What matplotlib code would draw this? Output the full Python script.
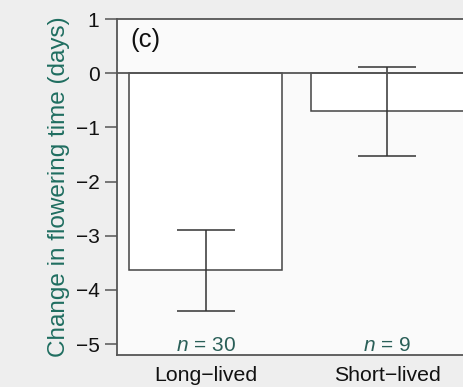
import matplotlib
matplotlib.use("Agg")
import matplotlib.pyplot as plt
import numpy as np

categories = ["Long\u2212lived", "Short\u2212lived"]
means = [-3.63, -0.70]
err_upper = [-2.89, 0.11]
err_lower = [-4.38, -1.53]
n_labels = ["30", "9"]
yticks = [1, 0, -1, -2, -3, -4, -5]

plt.rcParams['font.family'] = ['Liberation Sans', 'DejaVu Sans']
plt.rcParams['axes.unicode_minus'] = True
plt.rcParams['mathtext.fontset'] = 'custom'
plt.rcParams['mathtext.it'] = 'Liberation Sans:italic'
plt.rcParams['mathtext.rm'] = 'Liberation Sans'

fig = plt.figure(figsize=(4.64, 3.87), dpi=100, facecolor='#eeeeee')
ax = fig.add_axes([0.252, 0.0827, 0.817, 0.868])
ax.set_facecolor('#fafafa')

x = np.arange(len(categories))
edge = '#444444'
ax.bar(x, means, width=0.843, color='white', edgecolor=edge, linewidth=1.1, zorder=2)
m = np.array(means)
yerr = np.vstack([m - np.array(err_lower), np.array(err_upper) - m])
ax.errorbar(x, means, yerr=yerr, fmt='none', ecolor='#333333', elinewidth=1.1,
            capsize=21, capthick=1.1, zorder=3)
ax.axhline(0, color='#555555', linewidth=1.3, zorder=4)

ax.set_xlim(-0.488, 1.6)
ax.set_ylim(-5.2, 1)
ax.set_yticks(yticks)
ax.set_yticklabels([("\u2212%d" % -t) if t < 0 else str(t) for t in yticks])
ax.tick_params(axis='y', direction='out', length=8.6, width=1.1, color='#555555',
               labelsize=15, pad=4, labelcolor='#111111')
ax.set_xticks(x)
ax.set_xticklabels(categories)
ax.tick_params(axis='x', length=0, labelsize=15.3, pad=8, labelcolor='#111111')

for s in ['left', 'bottom', 'top', 'right']:
    ax.spines[s].set_color('#555555')
    ax.spines[s].set_linewidth(1.3)

ax.set_ylabel("Change in flowering time (days)", fontsize=17.5, color='#1f6e60', labelpad=4)

for xi, n in zip(x, n_labels):
    ax.text(xi, -5.12, "$n$ = " + n, ha='center', va='baseline',
            fontsize=15, color='#2a5f58')

ax.text(-0.416, 0.62, "(c)", fontsize=18.5, color='#111111', va='center', ha='left')

fig.savefig("out.png", dpi=100, facecolor=fig.get_facecolor())
